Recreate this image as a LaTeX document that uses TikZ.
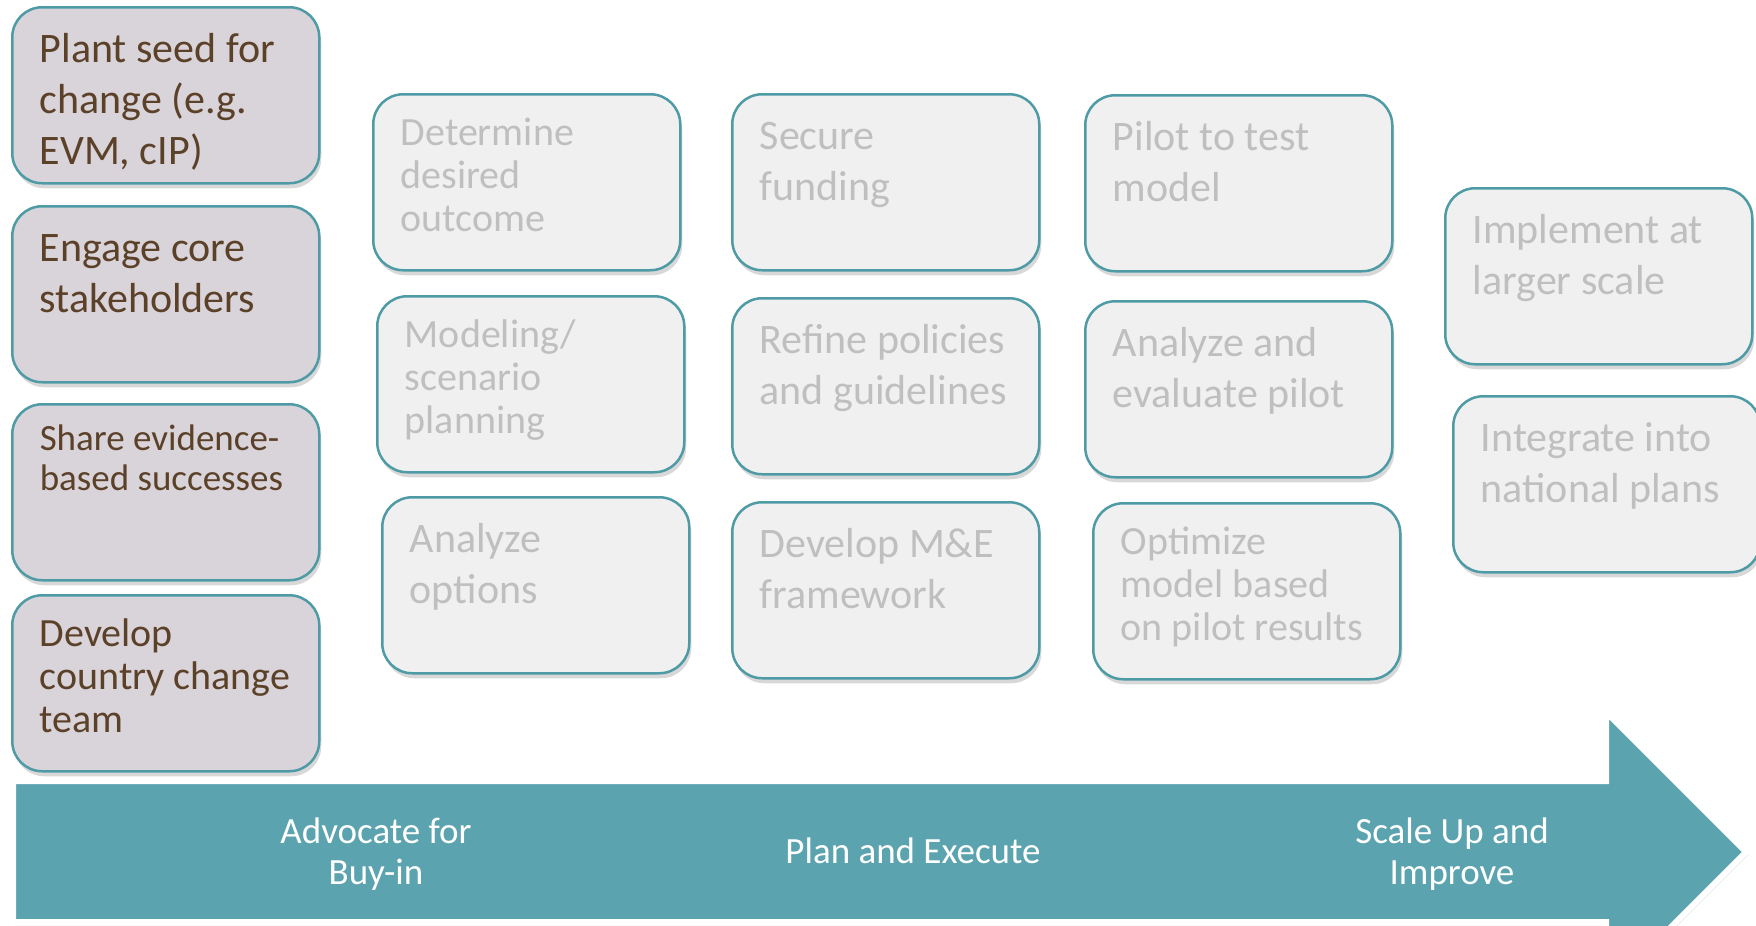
\documentclass[tikz,border=0pt]{standalone}
\usepackage{fontspec}
\setmainfont{Carlito}
\usetikzlibrary{shadows}
\definecolor{tealline}{HTML}{4E9BA6}
\definecolor{tealarrow}{HTML}{5BA3AF}
\definecolor{mauvefill}{HTML}{D9D3DA}
\definecolor{browntext}{HTML}{5C4129}
\definecolor{greyfill}{HTML}{F0F0F0}
\definecolor{greytext}{HTML}{BFBFBF}
\tikzset{
card/.style={draw=tealline, line width=2.5pt, rounded corners=30pt, anchor=north west,
  inner xsep=27.5pt, inner ysep=0pt, text width=252pt, align=flush left,
  drop shadow={shadow xshift=2pt, shadow yshift=-5pt, opacity=.25, fill=black!60}},
advocate/.style={card, fill=mauvefill, text=browntext},
planned/.style={card, fill=greyfill, text=greytext},
bigtxt/.style={font=\fontsize{42}{51}\selectfont, text height=55pt, text depth=121pt},
midtxt/.style={font=\fontsize{40}{43}\selectfont, text height=51pt, text depth=125pt},
smalltxt/.style={font=\fontsize{37}{40}\selectfont, text height=46pt, text depth=130pt},
phase/.style={text=white, align=center, font=\fontsize{37}{41}\selectfont}
}
\begin{document}
\begin{tikzpicture}[x=1pt,y=-1pt]
\useasboundingbox (0,0) rectangle (1756,926);
\fill[white] (0,0) rectangle (1756,926);

\draw[fill=tealarrow, draw=white, line width=6pt,
  drop shadow={shadow xshift=2pt, shadow yshift=-3pt, opacity=.2, fill=black!60}]
  (13,781) -- (1606,781) -- (1606,712) -- (1746,852) -- (1606,992) -- (1606,922) -- (13,922) -- cycle;
\node[phase] (buyin) at (376,854) {Advocate for\\Buy-in};
\node[phase] (execute) at (913,851) {Plan and Execute};
\node[phase] (scaleup) at (1452,854) {Scale Up and\\Improve};

\node[advocate, bigtxt] (seed) at (11,6) {Plant seed for\\change (e.g.\\EVM, cIP)};
\node[advocate, bigtxt] (engage) at (11,205) {Engage core\\stakeholders};
\node[advocate, smalltxt] (share) at (11,403) {Share evidence-\\based successes};
\node[advocate, midtxt] (team) at (11,594) {Develop\\country change\\team};

\node[planned, midtxt] (outcome) at (372,93) {Determine\\desired\\outcome};
\node[planned, midtxt] (modeling) at (376,295) {Modeling/\\scenario\\planning};
\node[planned, bigtxt] (options) at (381,496) {Analyze\\options};

\node[planned, bigtxt] (funding) at (731,93) {Secure\\funding};
\node[planned, bigtxt] (policies) at (731,297) {Refine policies\\and guidelines};
\node[planned, bigtxt] (mande) at (731,501) {Develop M\&E\\framework};

\node[planned, bigtxt] (pilot) at (1084,94) {Pilot to test\\model};
\node[planned, bigtxt] (evaluate) at (1084,300) {Analyze and\\evaluate pilot};
\node[planned, midtxt] (optimize) at (1092,502) {Optimize\\model based\\on pilot results};

\node[planned, bigtxt] (implement) at (1444,187) {Implement at\\larger scale};
\node[planned, bigtxt] (integrate) at (1452,395) {Integrate into\\national plans};
\end{tikzpicture}
\end{document}
